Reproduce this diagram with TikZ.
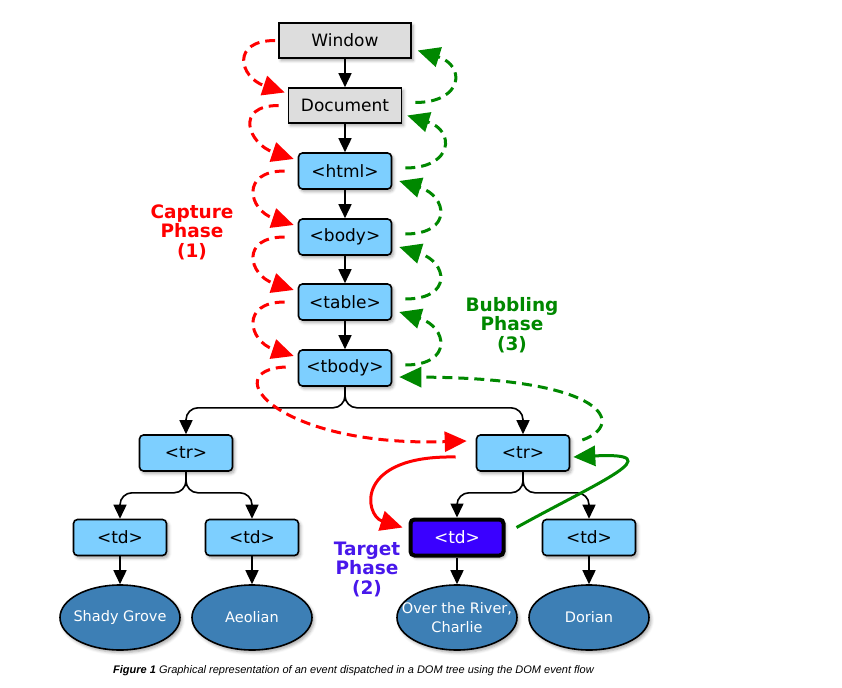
\documentclass[tikz,border=0pt]{standalone}
\usepackage{fontspec}
\setmainfont{DejaVu Sans}
\newfontfamily\capfont{Liberation Sans}
\usetikzlibrary{arrows.meta,shadows.blur,shapes.geometric,calc}

\definecolor{boxblue}{RGB}{125,207,255}
\definecolor{boxgray}{RGB}{221,221,221}
\definecolor{leafblue}{RGB}{61,127,181}
\definecolor{targetfill}{RGB}{58,0,255}
\definecolor{targettext}{RGB}{72,24,235}
\definecolor{capred}{RGB}{255,0,0}
\definecolor{bubgreen}{RGB}{0,136,0}

\tikzset{
  shadowed/.style={blur shadow={shadow xshift=2pt, shadow yshift=-2.5pt,
      shadow blur radius=3pt, shadow opacity=35}},
  graybox/.style={draw, line width=1.6pt, fill=boxgray, minimum height=35pt,
      inner sep=0pt, font=\fontsize{17}{19}\selectfont, shadowed},
  htmlbox/.style={draw, line width=1.6pt, fill=boxblue, rounded corners=4pt,
      minimum width=93pt, minimum height=36pt, inner sep=0pt,
      font=\fontsize{17}{19}\selectfont, shadowed},
  targetbox/.style={htmlbox, fill=targetfill, line width=4pt, text=white},
  leaf/.style={ellipse, draw, line width=1.6pt, fill=leafblue,
      minimum width=120pt, minimum height=65pt, inner sep=0pt, shadowed},
  leaftext/.style={text=white, align=center, inner sep=0pt,
      font=\fontsize{14.5}{19}\selectfont},
  treeedge/.style={line width=1.6pt, rounded corners=12pt,
      -{Triangle[length=14pt,width=13pt]}},
  capturearc/.style={capred, line width=3pt, dash pattern=on 10pt off 6pt,
      -{Triangle[length=22pt,width=20pt]}},
  bubblearc/.style={bubgreen, line width=3pt, dash pattern=on 10pt off 6pt,
      -{Triangle[length=22pt,width=20pt]}},
  capturepath/.style={capred, line width=3pt,
      -{Triangle[length=22pt,width=20pt]}},
  bubblepath/.style={bubgreen, line width=3pt,
      -{Triangle[length=22pt,width=20pt]}},
  phaselabel/.style={font=\bfseries\fontsize{18.5}{19.5}\selectfont, align=center}
}

\begin{document}
\begin{tikzpicture}[x=1pt,y=-1pt]
\useasboundingbox (0,0) rectangle (842,687);

% DOM path from the window down to the table rows
\node[graybox, minimum width=132pt] (win) at (345,40.5) {Window};
\node[graybox, minimum width=113pt] (doc) at (345,105.5) {Document};
\node[htmlbox] (html)  at (345,171) {<html>};
\node[htmlbox] (body)  at (345,237) {<body>};
\node[htmlbox] (table) at (345,302) {<table>};
\node[htmlbox] (tbody) at (345,368) {<tbody>};
\node[htmlbox] (trA) at (186,453) {<tr>};
\node[htmlbox] (trB) at (523,453) {<tr>};
\node[htmlbox] (tdA) at (120,537.5) {<td>};
\node[htmlbox] (tdB) at (252,537.5) {<td>};
\node[targetbox] (tdC) at (457,537.5) {<td>};
\node[htmlbox] (tdD) at (589,537.5) {<td>};

% text leaves
\node[leaf, label={[leaftext]center:Shady Grove}] (leafA) at (120,617.5) {};
\node[leaf, label={[leaftext]center:Aeolian}] (leafB) at (252,617.5) {};
\node[leaf, label={[leaftext]center:Over the River,\\Charlie}] (leafC) at (457,617.5) {};
\node[leaf, label={[leaftext]center:Dorian}] (leafD) at (589,617.5) {};

% tree edges
\draw[treeedge] (win) -- (doc);
\draw[treeedge] (doc) -- (html);
\draw[treeedge] (html) -- (body);
\draw[treeedge] (body) -- (table);
\draw[treeedge] (table) -- (tbody);
\draw[treeedge] (tbody.south) -- ++(0,21) -| (trA.north);
\draw[treeedge] (tbody.south) -- ++(0,21) -| (trB.north);
\draw[treeedge] (trA.south) -- ++(0,21) -| (tdA.north);
\draw[treeedge] (trA.south) -- ++(0,21) -| (tdB.north);
\draw[treeedge] (trB.south) -- ++(0,21) -| (tdC.north);
\draw[treeedge] (trB.south) -- ++(0,21) -| (tdD.north);
\draw[treeedge] (tdA) -- (leafA);
\draw[treeedge] (tdB) -- (leafB);
\draw[treeedge] (tdC) -- (leafC);
\draw[treeedge] (tdD) -- (leafD);

% capture phase
\draw[capturearc] ($(win.west)+(-3,0)$) .. controls +(-45,0) and +(-45,-15) .. ($(doc.west)+(-3,-13)$);
\draw[capturearc] ($(doc.west)+(-9,0)$) .. controls +(-45,0) and +(-45,-15) .. ($(html.west)+(-4,-12)$);
\draw[capturearc] ($(html.west)+(-13,0)$) .. controls +(-45,0) and +(-45,-15) .. ($(body.west)+(-4,-12)$);
\draw[capturearc] ($(body.west)+(-13,0)$) .. controls +(-45,0) and +(-45,-15) .. ($(table.west)+(-4,-12)$);
\draw[capturearc] ($(table.west)+(-13,0)$) .. controls +(-45,0) and +(-45,-15) .. ($(tbody.west)+(-4,-12)$);
\draw[capturearc] ($(tbody.west)+(-12,-1)$) .. controls +(-70,3) and +(-190,6) .. ($(trB.west)+(-9,-12)$);
\draw[capturepath] ($(trB.west)+(-20,4)$) .. controls +(-102,-2) and +(-38,-12) .. ($(tdC.west)+(-6,-10)$);

% bubbling phase
\draw[bubblepath] ($(tdC.east)+(11,-10)$) .. controls +(85,-47) and +(99,-5) .. ($(trB.east)+(3,4)$);
\draw[bubblearc] ($(trB.east)+(12,-13)$) .. controls +(43,-15) and +(210,1) .. ($(tbody.east)+(7,9)$);
\draw[bubblearc] ($(tbody.east)+(13,-3)$) .. controls +(48,0) and +(48,15) .. ($(table.east)+(7,10)$);
\draw[bubblearc] ($(table.east)+(13,-3)$) .. controls +(48,0) and +(48,15) .. ($(body.east)+(7,10)$);
\draw[bubblearc] ($(body.east)+(13,-3)$) .. controls +(48,0) and +(48,15) .. ($(html.east)+(7,10)$);
\draw[bubblearc] ($(html.east)+(13,-3)$) .. controls +(48,0) and +(48,15) .. ($(doc.east)+(5,10)$);
\draw[bubblearc] ($(doc.east)+(13,-3)$) .. controls +(48,0) and +(48,15) .. ($(win.east)+(6,10)$);

% phase labels
\node[phaselabel, text=capred] (capture) at (192,232) {Capture\\Phase\\(1)};
\node[phaselabel, text=targettext] (target) at (367,569) {Target\\Phase\\(2)};
\node[phaselabel, text=bubgreen] (bubbling) at (512,325) {Bubbling\\Phase\\(3)};

% caption
\node[anchor=west, inner sep=0pt, font=\capfont\itshape\fontsize{11}{13}\selectfont] (caption) at (113,671)
  {{\bfseries Figure 1} Graphical representation of an event dispatched in a DOM tree using the DOM event flow};
\end{tikzpicture}
\end{document}
